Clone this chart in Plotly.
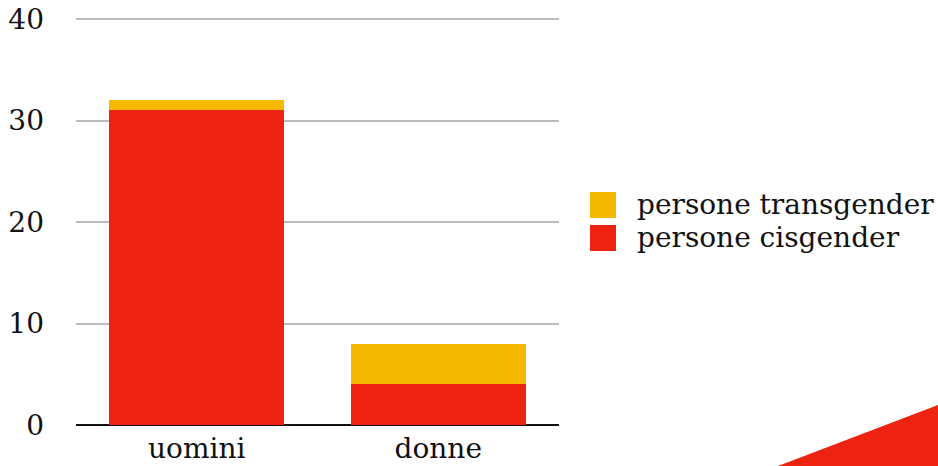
import plotly.graph_objects as go

categories = ["uomini", "donne"]
series_names = ["persone cisgender", "persone transgender"]
cis_values = [31, 4]
trans_values = [1, 4]
y_ticks = [0, 10, 20, 30, 40]

RED = "#ee2211"
YELLOW = "#f7b900"
FONT = "DejaVu Serif"
FS = 28

fig = go.Figure()
fig.add_trace(go.Bar(x=categories, y=cis_values, name=series_names[0],
                     marker=dict(color=RED, line=dict(width=0)), showlegend=False))
fig.add_trace(go.Bar(x=categories, y=trans_values, name=series_names[1],
                     marker=dict(color=YELLOW, line=dict(width=0)), showlegend=False))

W, H = 938, 466
L, R, T, B = 76, 379, 14, 41
pw, ph = W - L - R, H - T - B
YMAX = 40.5

def px_x(x):
    return (x - L) / pw

def px_y(y):
    return (H - B - y) / ph

# custom legend (large square swatches)
legend_items = [(series_names[1], YELLOW, 192), (series_names[0], RED, 225)]
for name, color, top in legend_items:
    fig.add_shape(type="rect", xref="paper", yref="paper",
                  x0=px_x(590), x1=px_x(616), y0=px_y(top + 26), y1=px_y(top),
                  fillcolor=color, line=dict(width=0))
    fig.add_annotation(xref="paper", yref="paper", x=px_x(635), y=px_y(top + 12),
                       text=name, showarrow=False, xanchor="left", yanchor="middle",
                       font=dict(family=FONT, size=FS, color="#111"))

# decorative corner triangle
fig.add_shape(type="path", xref="paper", yref="paper",
              path=f"M {px_x(778)} {px_y(466)} L {px_x(938)} {px_y(405)} L {px_x(938)} {px_y(466)} Z",
              fillcolor=RED, line=dict(width=0), layer="above")

fig.update_layout(
    barmode="stack",
    bargap=0.275,
    width=W, height=H,
    margin=dict(l=L, r=R, t=T, b=B, pad=0, autoexpand=False),
    paper_bgcolor="white", plot_bgcolor="white",
    font=dict(family=FONT, size=FS, color="#111"),
    showlegend=False,
    xaxis=dict(showgrid=False, showline=False, ticks="", tickfont=dict(size=FS),
               ticklabelstandoff=4, automargin=False),
    yaxis=dict(range=[0, YMAX], tickvals=y_ticks, showgrid=True, gridcolor="#bbbbbb",
               gridwidth=2, zeroline=True, zerolinecolor="#111", zerolinewidth=2,
               showline=False, ticks="", tickfont=dict(size=FS), ticklabelstandoff=31,
               automargin=False),
)

fig.write_html("out.html")
